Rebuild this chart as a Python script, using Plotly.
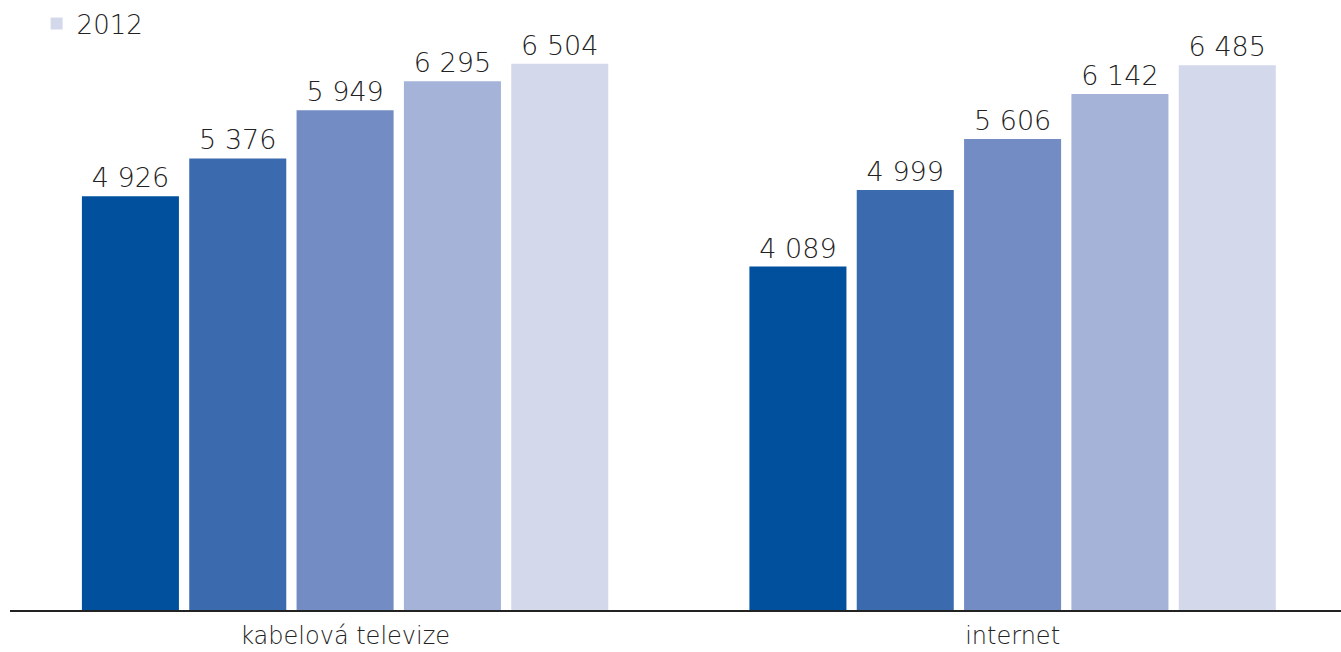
import plotly.graph_objects as go

categories = ["kabelová televize", "internet"]
years = ["2008", "2009", "2010", "2011", "2012"]
values = {
    "2008": [4926, 4089],
    "2009": [5376, 4999],
    "2010": [5949, 5606],
    "2011": [6295, 6142],
    "2012": [6504, 6485],
}
colors = ["#00509E", "#3B6BAE", "#738CC3", "#A5B3D8", "#D3D8EB"]

FONT = "DejaVu Sans"

def fmt(v):
    return f"{v:,}".replace(",", " ")

fig = go.Figure()
for yr, col in zip(years, colors):
    vals = values[yr]
    fig.add_trace(go.Bar(
        name=yr, x=categories, y=vals, marker=dict(color=col, line=dict(width=0)),
        text=[fmt(v) for v in vals], textposition="outside",
        textfont=dict(family=FONT, size=27, color="#222222", weight=300),
        cliponaxis=False,
        showlegend=(yr == "2012"),
    ))

fig.update_layout(
    width=1341, height=652,
    margin=dict(l=10, r=0, t=0, b=42, autoexpand=False),
    paper_bgcolor="white", plot_bgcolor="white",
    barmode="group", bargap=0.196, bargroupgap=0.096,
    font=dict(family=FONT, color="#222222"),
    legend=dict(x=0.02, y=1.0, xanchor="left", yanchor="top",
                font=dict(family=FONT, size=26, color="#222222", weight=300),
                bgcolor="rgba(0,0,0,0)"),
    xaxis=dict(range=[-0.502, 1.492], showline=True, linecolor="#222222", linewidth=1.5,
               ticks="", ticklabelstandoff=3, automargin=False,
               tickfont=dict(family=FONT, size=24, color="#222222", weight=300),
               showgrid=False, zeroline=False),
    yaxis=dict(range=[0, 7262], visible=False, showgrid=False, zeroline=False),
)

fig.write_html("out.html")
